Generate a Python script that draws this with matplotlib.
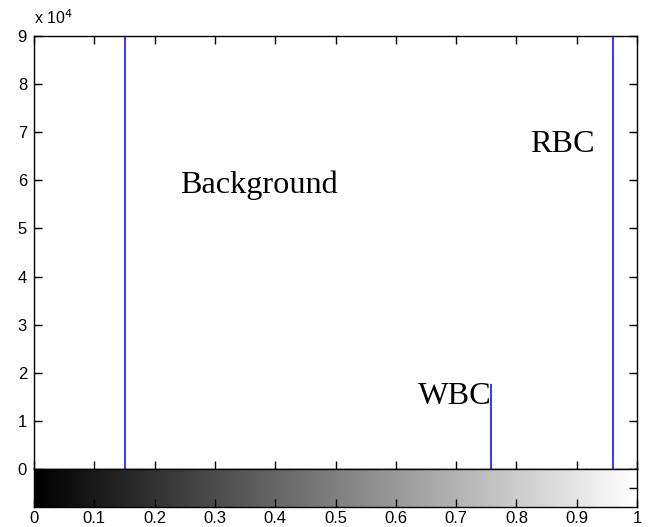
import numpy as np
import matplotlib
matplotlib.use('Agg')
import matplotlib.pyplot as plt

# histogram peaks (intensity, pixel count)
peak_pos = [0.151, 0.758, 0.960]
peak_count = [3.2e5, 1.77e4, 2.9e5]
y_ticks = [0, 1, 2, 3, 4, 5, 6, 7, 8, 9]
x_ticks = [0, 0.1, 0.2, 0.3, 0.4, 0.5, 0.6, 0.7, 0.8, 0.9, 1]
x_labels = ['0', '0.1', '0.2', '0.3', '0.4', '0.5', '0.6', '0.7', '0.8', '0.9', '1']
labels = ['Background', 'WBC', 'RBC']
label_x = [0.243, 0.636, 0.822]
label_y = [5.9e4, 1.5e4, 6.74e4]

plt.rcParams['font.family'] = ['Liberation Sans', 'DejaVu Sans']

fig = plt.figure(figsize=(6.57, 5.27), dpi=100)
L, W = 34 / 657, 603 / 657
ax = fig.add_axes([L, 1 - 469 / 527, W, (469 - 36) / 527])
cax = fig.add_axes([L, 1 - 507 / 527, W, (507 - 469) / 527])

ax.vlines(peak_pos, 0, peak_count, color='#0000ff', lw=1.1)
ax.plot([0, 1], [0, 0], color='#0000ff', lw=1, linestyle=':')
ax.set_xlim(0, 1)
ax.set_ylim(0, 9e4)
ax.set_yticks([v * 1e4 for v in y_ticks])
ax.set_yticklabels([str(v) for v in y_ticks])
ax.set_xticks(x_ticks)
ax.set_xticklabels([])
ax.tick_params(direction='in', length=6, width=1, top=True, right=True,
               labelsize=12, pad=5)
for s in ax.spines.values():
    s.set_linewidth(1)
ax.text(0, 1.02, r'x 10$^4$', transform=ax.transAxes, fontsize=11.5,
        ha='left', va='bottom')

for t, x, y in zip(labels, label_x, label_y):
    ax.text(x, y, t, fontsize=23.2, family='Liberation Serif',
            ha='left', va='center')

grad = np.linspace(0, 1, 256).reshape(1, -1)
cax.imshow(grad, cmap='gray', aspect='auto', extent=[0, 1, 0, 1])
cax.set_xlim(0, 1)
cax.set_ylim(0, 1)
cax.set_xticks(x_ticks)
cax.set_xticklabels(x_labels)
cax.set_yticks([0.5])
cax.set_yticklabels([])
cax.tick_params(direction='in', length=6, width=1, left=False, right=True,
                labelsize=12, pad=3)
for s in cax.spines.values():
    s.set_linewidth(1)

fig.savefig('out.png', dpi=100)
